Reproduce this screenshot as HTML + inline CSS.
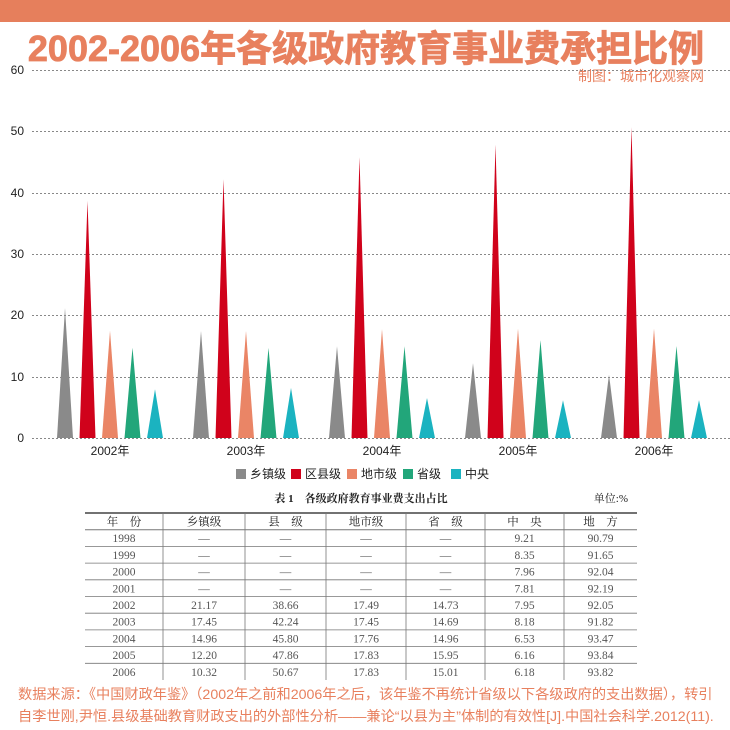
<!DOCTYPE html>
<html><head><meta charset="utf-8"><style>
body{margin:0;width:730px;height:730px;background:#fff;overflow:hidden;font-family:"Liberation Sans","Noto Sans CJK SC",sans-serif}
</style></head><body>
<svg width="730" height="730" xmlns="http://www.w3.org/2000/svg" style="position:absolute;left:0;top:0">
<rect x="0" y="0" width="730" height="22" fill="#e67f5c"/>
<text x="366" y="61" text-anchor="middle" font-family="Liberation Sans,Noto Sans CJK SC,sans-serif" font-weight="bold" font-size="36" fill="#e8805e" stroke="#e8805e" stroke-width="0.8">2002-2006年各级政府教育事业费承担比例</text>
<text x="704" y="81" text-anchor="end" font-family="Liberation Sans,Noto Sans CJK SC,sans-serif" font-size="14" fill="#e8805e">制图：城市化观察网</text>
<g font-family="Liberation Sans,sans-serif" font-size="12" fill="#222">
<text x="24" y="74" text-anchor="end">60</text>
<text x="24" y="135" text-anchor="end">50</text>
<text x="24" y="197" text-anchor="end">40</text>
<text x="24" y="258" text-anchor="end">30</text>
<text x="24" y="319" text-anchor="end">20</text>
<text x="24" y="381" text-anchor="end">10</text>
<text x="24" y="442" text-anchor="end">0</text>
</g>
<g stroke="#888" stroke-width="1" stroke-dasharray="2,2">
<line x1="32" x2="730" y1="70.5" y2="70.5"/>
<line x1="32" x2="730" y1="131.5" y2="131.5"/>
<line x1="32" x2="730" y1="193.5" y2="193.5"/>
<line x1="32" x2="730" y1="254.5" y2="254.5"/>
<line x1="32" x2="730" y1="315.5" y2="315.5"/>
<line x1="32" x2="730" y1="377.5" y2="377.5"/>
<line x1="32" x2="730" y1="438.5" y2="438.5"/>
</g>
<g id="sp"></g>
<g font-family="Liberation Sans,Noto Sans CJK SC,sans-serif" font-size="12" fill="#222" text-anchor="middle">
<text x="110" y="455">2002年</text>
<text x="246" y="455">2003年</text>
<text x="382" y="455">2004年</text>
<text x="518" y="455">2005年</text>
<text x="654" y="455">2006年</text>
</g>
<g font-family="Liberation Sans,Noto Sans CJK SC,sans-serif" font-size="12" fill="#222">
<rect x="236" y="469" width="10" height="10" fill="#8a8a8a"/><text x="250" y="478">乡镇级</text>
<rect x="291" y="469" width="10" height="10" fill="#d0021b"/><text x="305" y="478">区县级</text>
<rect x="347" y="469" width="10" height="10" fill="#ea8566"/><text x="361" y="478">地市级</text>
<rect x="403" y="469" width="10" height="10" fill="#22a67a"/><text x="417" y="478">省级</text>
<rect x="451" y="469" width="10" height="10" fill="#1bb3c0"/><text x="465" y="478">中央</text>
</g>
<text x="361" y="502" text-anchor="middle" font-family="Liberation Serif,Noto Serif CJK SC,serif" font-weight="bold" font-size="11" fill="#222">表 1　各级政府教育事业费支出占比</text>
<text x="628" y="502" text-anchor="end" font-family="Liberation Serif,Noto Serif CJK SC,serif" font-size="11" fill="#222">单位:%</text>
<g id="tb"></g>
<g font-family="Liberation Sans,Noto Sans CJK SC,sans-serif" font-size="14.2" fill="#e8805e">
<text x="18" y="699">数据来源：《中国财政年鉴》（2002年之前和2006年之后，该年鉴不再统计省级以下各级政府的支出数据），转引</text>
<text x="18" y="721">自李世刚,尹恒.县级基础教育财政支出的外部性分析——兼论“以县为主”体制的有效性[J].中国社会科学.2012(11).</text>
</g>
</svg>
<script>
var NS="http://www.w3.org/2000/svg";
var data=[[21.17,38.66,17.49,14.73,7.95],[17.45,42.24,17.45,14.69,8.18],[14.96,45.80,17.76,14.96,6.53],[12.20,47.86,17.83,15.95,6.16],[10.32,50.67,17.83,15.01,6.18]];
var cols=["#8a8a8a","#d0021b","#ea8566","#22a67a","#1bb3c0"];
var sp=document.getElementById("sp");
for(var g=0;g<5;g++)for(var i=0;i<5;i++){
 var cx=65+136*g+22.5*i, y=438-data[g][i]*6.133, hw=8;
 var p=document.createElementNS(NS,"path");
 p.setAttribute("d","M"+(cx-hw)+",438 L"+cx+","+y+" L"+(cx+hw)+",438Z");
 p.setAttribute("fill",cols[i]);sp.appendChild(p);
}
var tb=document.getElementById("tb");
var xs=[85,163,245,326,406,485,564,637];
var rows=[["年　份","乡镇级","县　级","地市级","省　级","中　央","地　方"],
["1998","—","—","—","—","9.21","90.79"],["1999","—","—","—","—","8.35","91.65"],["2000","—","—","—","—","7.96","92.04"],["2001","—","—","—","—","7.81","92.19"],
["2002","21.17","38.66","17.49","14.73","7.95","92.05"],["2003","17.45","42.24","17.45","14.69","8.18","91.82"],["2004","14.96","45.80","17.76","14.96","6.53","93.47"],["2005","12.20","47.86","17.83","15.95","6.16","93.84"],["2006","10.32","50.67","17.83","15.01","6.18","93.82"]];
function ln(x1,y1,x2,y2,w,c){var l=document.createElementNS(NS,"line");l.setAttribute("x1",x1);l.setAttribute("y1",y1);l.setAttribute("x2",x2);l.setAttribute("y2",y2);l.setAttribute("stroke",c);l.setAttribute("stroke-width",w);tb.appendChild(l);}
var ty=513,rh=16.7;
ln(85,ty,637,ty,1.5,"#444");
for(var r=0;r<rows.length;r++){
 var yy=ty+rh*(r+1);
 if(r<rows.length-1) ln(85,yy,637,yy,r==0?1:0.8,"#777");
 for(var c=0;c<7;c++){var t=document.createElementNS(NS,"text");t.setAttribute("x",(xs[c]+xs[c+1])/2);t.setAttribute("y",ty+rh*r+12.5);t.setAttribute("text-anchor","middle");t.setAttribute("font-family","Liberation Serif,Noto Serif CJK SC,serif");t.setAttribute("font-size","11.5");t.setAttribute("fill",r==0?"#222":"#555");t.textContent=rows[r][c];tb.appendChild(t);}
}
for(var c=1;c<7;c++)ln(xs[c],ty,xs[c],ty+rh*10,0.8,"#777");
</script>
</body></html>
